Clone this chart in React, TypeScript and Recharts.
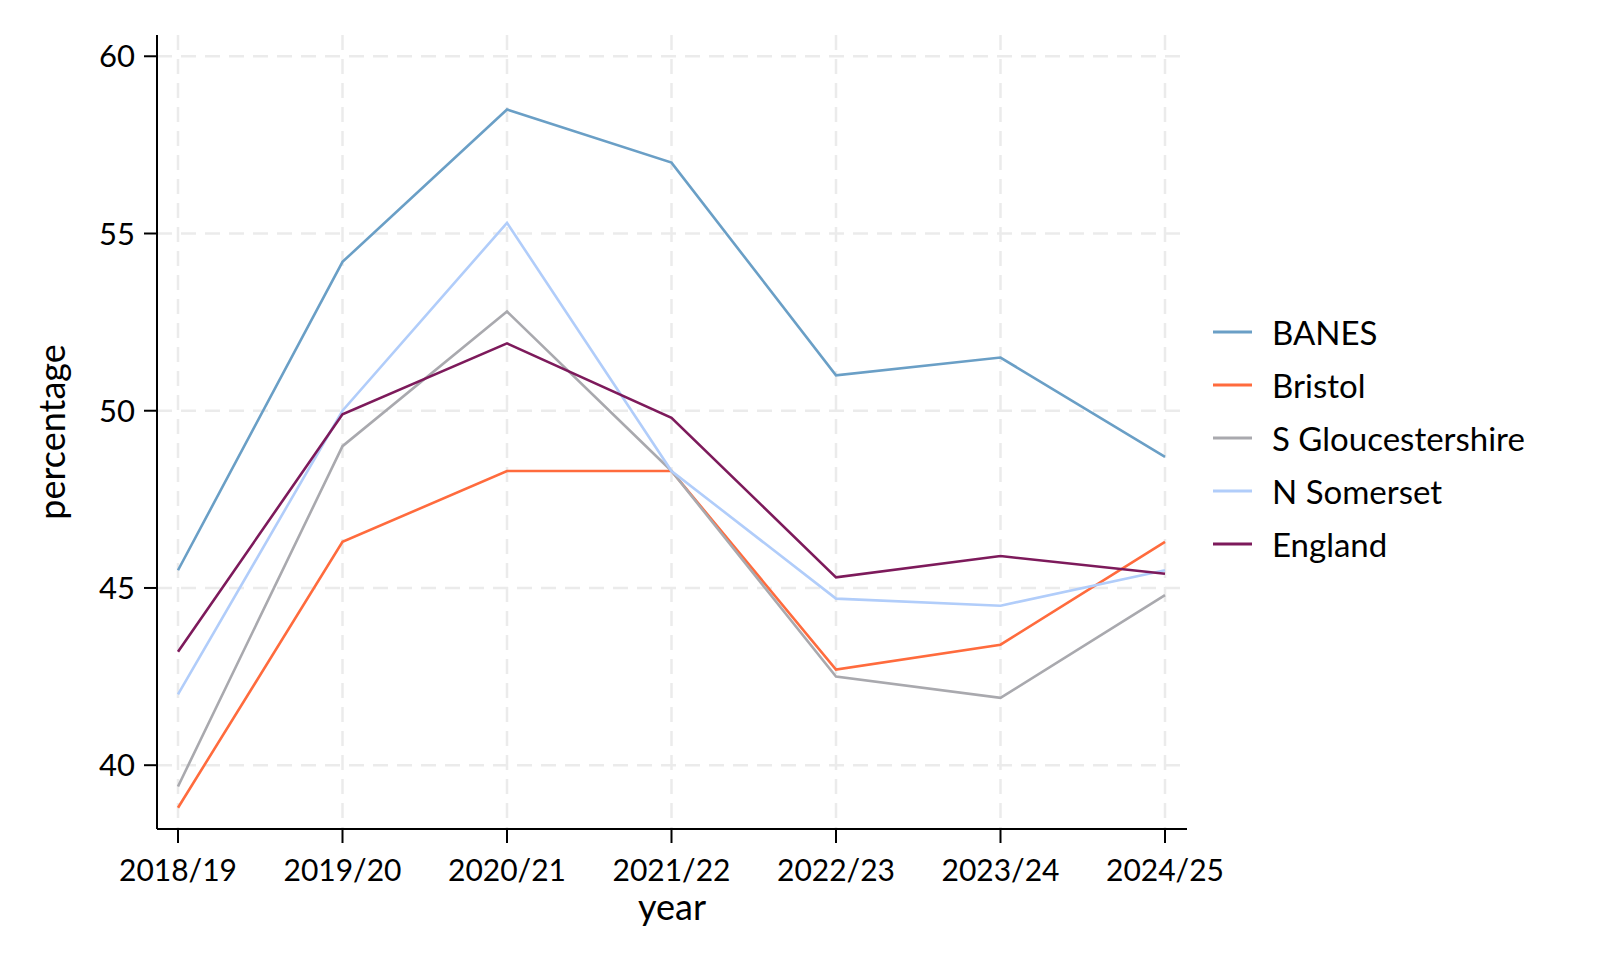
import React from 'react'
import { CartesianGrid, Legend, Line, LineChart, XAxis, YAxis } from 'recharts'

// percentage by year
const years = ['2018/19', '2019/20', '2020/21', '2021/22', '2022/23', '2023/24', '2024/25']
const banes = [45.5, 54.2, 58.5, 57.0, 51.0, 51.5, 48.7]
const bristol = [38.8, 46.3, 48.3, 48.3, 42.7, 43.4, 46.3]
const sGlos = [39.4, 49.0, 52.8, 48.3, 42.5, 41.9, 44.8]
const nSomerset = [42.0, 50.0, 55.3, 48.3, 44.7, 44.5, 45.5]
const england = [43.2, 49.9, 51.9, 49.8, 45.3, 45.9, 45.4]
const yTicks = [40, 45, 50, 55, 60]

const series = [
  { key: 'BANES', values: banes, color: '#6a9fc6' },
  { key: 'Bristol', values: bristol, color: '#ff6b3d' },
  { key: 'S Gloucestershire', values: sGlos, color: '#a9a9ae' },
  { key: 'N Somerset', values: nSomerset, color: '#b1cdfa' },
  { key: 'England', values: england, color: '#7d1a5b' },
]

const data = years.map((year, i) => {
  const row: any = { year }
  series.forEach(s => { row[s.key] = s.values[i] })
  return row
})

const FONT = 'Lato, "Open Sans", sans-serif'
const axisStroke = { stroke: '#000', strokeWidth: 2 }

const LegendBox = () => (
  <div style={{ width: 400, fontFamily: FONT, fontSize: 33, color: '#000' }}>
    {series.map(s => (
      <div key={s.key} style={{ display: 'flex', alignItems: 'center', height: 53 }}>
        <svg width={59} height={10}>
          <line x1={0} y1={5} x2={39} y2={5} stroke={s.color} strokeWidth={3} />
        </svg>
        <span>{s.key}</span>
      </div>
    ))}
  </div>
)

const App = () => {
  return (
    <LineChart
      width={1604}
      height={956}
      data={data}
      margin={{ top: 27, right: 25, bottom: 0, left: 0 }}
      style={{ fontFamily: FONT }}
    >
      <CartesianGrid stroke="#ebebeb" strokeWidth={2.5} strokeDasharray="15 9" syncWithTicks />
      <XAxis
        dataKey="year"
        padding={{ left: 21, right: 22 }}
        height={135}
        axisLine={axisStroke}
        tickLine={axisStroke}
        tickSize={14}
        tickMargin={17}
        tick={{ fill: '#000', fontSize: 30 }}
        interval={0}
        label={{
          content: ({ viewBox }: any) => (
            <text x={viewBox.x + viewBox.width / 2} y={912} textAnchor="middle" fontSize={36} fill="#000">
              year
            </text>
          ),
        }}
      />
      <YAxis
        domain={[38.2, 60.6]}
        ticks={yTicks}
        width={149}
        axisLine={axisStroke}
        tickLine={axisStroke}
        tickSize={13}
        tickMargin={9}
        tick={{ fill: '#000', fontSize: 31 }}
        label={{
          content: ({ viewBox }: any) => {
            const cy = viewBox.y + viewBox.height / 2
            return (
              <text x={57} y={cy} transform={`rotate(-90, 57, ${cy})`} textAnchor="middle" fontSize={36} fill="#000">
                percentage
              </text>
            )
          },
        }}
      />
      <Legend
        layout="vertical"
        align="right"
        verticalAlign="middle"
        content={() => <LegendBox />}
        wrapperStyle={{ left: 1205, top: 297, right: 'auto' }}
      />
      {series.map(s => (
        <Line
          key={s.key}
          dataKey={s.key}
          stroke={s.color}
          strokeWidth={2.6}
          dot={false}
          activeDot={false}
          isAnimationActive={false}
        />
      ))}
    </LineChart>
  )
}

export default App
